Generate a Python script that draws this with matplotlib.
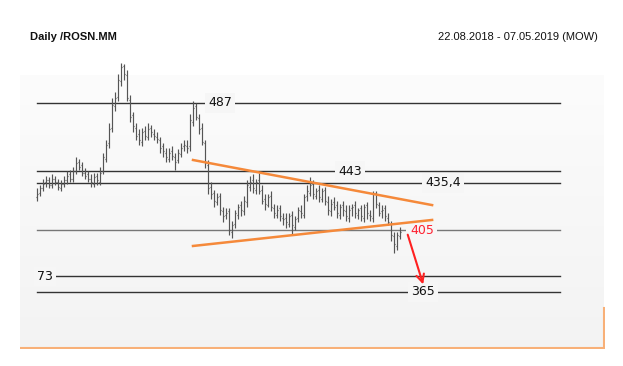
import numpy as np
import matplotlib.pyplot as plt

# daily OHLC bars, ROSN.MM 22.08.2018 - 07.05.2019
opens = [426, 429, 432, 436, 437, 434, 438, 436, 432, 435,
         437, 441, 438, 443, 449, 447, 442, 441, 438, 435,
         440, 436, 443, 451, 461, 471, 485, 491, 501, 511,
         505, 489, 479, 471, 467, 462, 469, 465, 471, 467,
         465, 463, 459, 455, 451, 456, 452, 450, 454, 459,
         459, 459, 475, 485, 477, 471, 461, 447, 433, 429,
         423, 427, 417, 415, 417, 404, 409, 415, 421, 417,
         423, 433, 437, 431, 437, 431, 425, 421, 427, 419,
         415, 419, 413, 413, 409, 415, 407, 413, 417, 415,
         427, 429, 435, 427, 431, 425, 431, 423, 417, 423,
         421, 415, 421, 417, 413, 419, 421, 415, 419, 413,
         421, 415, 413, 429, 421, 417, 419, 413, 409, 401,
         395, 401]
highs = [432, 434, 438, 440, 439, 441, 440, 438, 437, 440,
         443, 444, 446, 452, 451, 449, 445, 443, 441, 442,
         442, 446, 455, 463, 474, 490, 494, 506, 513, 512,
         508, 492, 481, 474, 470, 471, 472, 474, 473, 470,
         468, 465, 461, 458, 458, 459, 455, 457, 461, 463,
         463, 480, 488, 487, 480, 474, 463, 450, 436, 431,
         429, 429, 420, 419, 419, 411, 418, 422, 424, 427,
         437, 440, 441, 438, 442, 434, 428, 428, 430, 422,
         421, 421, 416, 416, 416, 417, 414, 420, 421, 428,
         434, 439, 437, 432, 434, 432, 433, 427, 425, 426,
         424, 422, 424, 421, 421, 422, 424, 419, 421, 422,
         423, 418, 430, 430, 423, 421, 421, 416, 411, 404,
         404, 407]
lows = [424, 427, 430, 433, 432, 432, 434, 431, 430, 433,
        435, 436, 436, 441, 444, 440, 438, 436, 433, 433,
        434, 434, 441, 449, 458, 468, 482, 488, 498, 502,
        488, 475, 468, 463, 460, 459, 463, 463, 465, 463,
        461, 455, 452, 449, 449, 450, 444, 448, 452, 456,
        455, 456, 472, 476, 467, 460, 445, 428, 425, 420,
        421, 415, 410, 412, 402, 400, 406, 412, 414, 415,
        420, 430, 429, 428, 428, 422, 418, 420, 417, 413,
        413, 411, 408, 406, 407, 402, 405, 410, 413, 413,
        424, 427, 425, 425, 423, 423, 421, 415, 414, 418,
        413, 412, 414, 411, 410, 414, 413, 412, 411, 410,
        412, 411, 410, 419, 414, 413, 411, 408, 398, 390,
        392, 399]
closes = [428, 432, 435, 437, 434, 438, 436, 433, 435, 437,
          440, 438, 443, 448, 446, 442, 440, 438, 436, 439,
          437, 442, 452, 460, 470, 486, 490, 502, 510, 506,
          490, 478, 472, 466, 463, 468, 466, 470, 468, 466,
          464, 458, 456, 452, 455, 453, 449, 455, 458, 460,
          458, 476, 484, 478, 470, 462, 448, 432, 428, 424,
          426, 418, 414, 416, 405, 408, 416, 420, 418, 424,
          434, 436, 432, 436, 430, 424, 422, 426, 420, 416,
          418, 414, 412, 410, 414, 408, 412, 418, 416, 426,
          430, 434, 428, 430, 426, 430, 424, 418, 422, 420,
          416, 420, 418, 414, 418, 420, 416, 418, 414, 420,
          416, 414, 428, 422, 416, 418, 414, 410, 402, 396,
          402, 404]

# horizontal levels and their labels
levels = [487, 443, 435.4, 405, 375, 365]
level_labels = ["487", "443", "435,4", "405", "73", "365"]
# triangle trend lines (bar index, price)
upper_trend = ([52, 131.7], [450.2, 421.1])
lower_trend = ([52, 131.7], [394.7, 411.5])
target_arrow = ([123.3, 129], [403.7, 368.2])

W, H = 623, 366
fig = plt.figure(figsize=(W / 100, H / 100), dpi=100)
fig.patch.set_facecolor("white")

def fbox(x0, y0, x1, y1):
    # pixel box (top-left origin) -> figure fraction rect
    return [x0 / W, 1 - y1 / H, (x1 - x0) / W, (y1 - y0) / H]

# panel background: very light vertical gradient
bg = fig.add_axes(fbox(20, 75, 604, 348))
shade = np.linspace(252, 243, 256) / 255
grad = np.repeat(shade[:, None, None], 3, axis=2)
bg.imshow(grad, aspect="auto", extent=(0, 1, 0, 1), origin="upper")
bg.set_xlim(0, 1)
bg.set_ylim(0, 1)
bg.axis("off")

# orange frame at bottom/right
frame = fig.add_axes(fbox(20, 300, 605, 349))
frame.set_xlim(0, 1)
frame.set_ylim(0, 1)
frame.plot([0, 0.998], [0.02, 0.02], color="#f8b078", lw=1.5)
frame.plot([0.998, 0.998], [0.02, 0.83], color="#f8b078", lw=1.5)
frame.axis("off")

ax = fig.add_axes(fbox(20, 45, 605, 348))
ax.patch.set_alpha(0)
ax.set_xlim(-17 / 3, 568 / 3)
ax.set_ylim(487 - 245 / 1.549, 487 + 58 / 1.549)
ax.axis("off")

line_end = 523 / 3
bg_col = "#f6f6f6"
for lv, lab in zip(levels, level_labels):
    col = "#777777" if lab == "405" else "#333333"
    x0 = 6 if lab == "73" else 0
    ax.plot([x0, line_end], [lv, lv], color=col, lw=1.0, zorder=1)

lab_x = {"487": 61, "443": 104.3, "435,4": 135.3, "405": 128.3, "365": 128.7}
for lv, lab in zip(levels, level_labels):
    if lab == "73":
        ax.text(0, lv, lab, ha="left", va="center", fontsize=9,
                color="#111111", zorder=2,
                bbox=dict(facecolor=bg_col, edgecolor="none", pad=2))
        continue
    col = "#ff2030" if lab == "405" else "#111111"
    ax.text(lab_x[lab], lv, lab, ha="center", va="center", fontsize=9,
            color=col, zorder=2,
            bbox=dict(facecolor=bg_col, edgecolor="none", pad=2.5))

# OHLC bars
idx = np.arange(len(closes))
ax.vlines(idx, lows, highs, color="#555555", lw=0.85, zorder=3)
ax.hlines(opens, idx - 0.45, idx, color="#555555", lw=0.85, zorder=3)
ax.hlines(closes, idx, idx + 0.45, color="#555555", lw=0.85, zorder=3)

ax.plot(*upper_trend, color="#f5893a", lw=1.8, zorder=4)
ax.plot(*lower_trend, color="#f5893a", lw=1.8, zorder=4)
ax.annotate("", xy=(target_arrow[0][1], target_arrow[1][1]),
            xytext=(target_arrow[0][0], target_arrow[1][0]),
            arrowprops=dict(arrowstyle="->", color="#ff2020", lw=1.5,
                            mutation_scale=14), zorder=5)

fig.text(30 / W, 1 - 37 / H, "Daily /ROSN.MM", fontsize=8,
         family="Liberation Sans", fontweight="bold", ha="left",
         va="center", color="#111111")
fig.text(598 / W, 1 - 37 / H, "22.08.2018 - 07.05.2019 (MOW)", fontsize=8,
         family="Liberation Sans", ha="right", va="center", color="#111111")

fig.savefig("out.png", dpi=100)
